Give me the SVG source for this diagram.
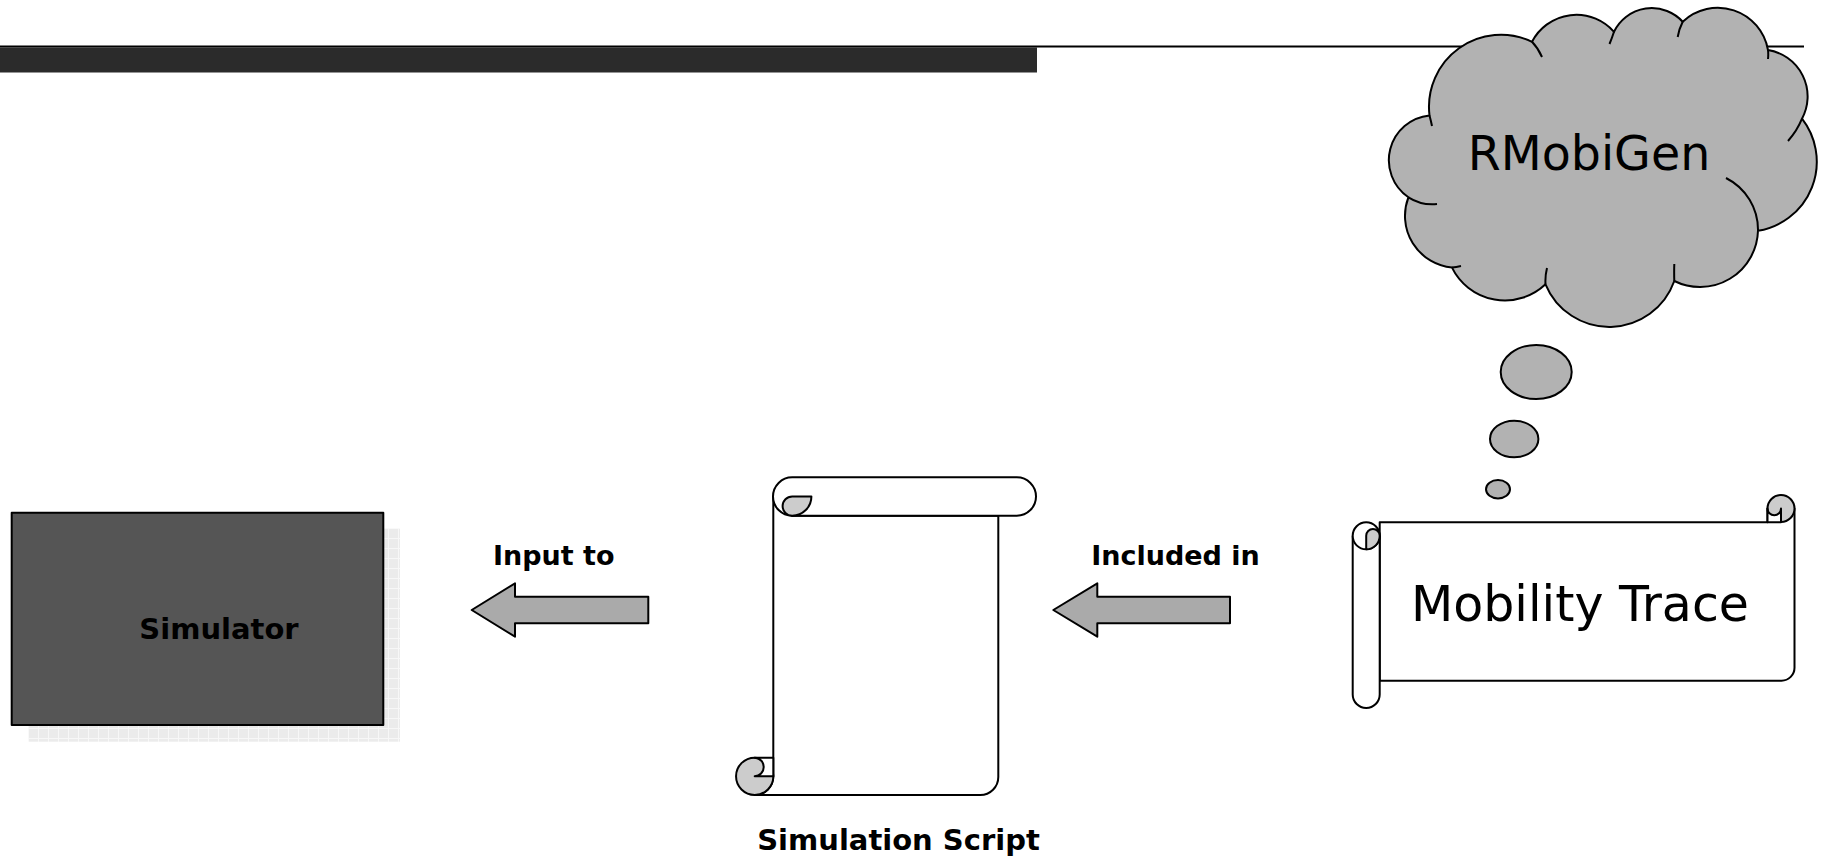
<svg xmlns="http://www.w3.org/2000/svg" width="1825" height="858" viewBox="0 0 1825 858">
<style>
.o{stroke:#000;stroke-width:2;stroke-linejoin:round}
.w{fill:#fff}
.c{fill:#cccccc}
.g{fill:#b2b2b2}
.n{fill:none}
.lb{font-family:"DejaVu Sans","Verdana",sans-serif;font-weight:bold;fill:#000;text-anchor:middle}
.lr{font-family:"DejaVu Sans","Verdana",sans-serif;fill:#000;text-anchor:middle}
</style>
<defs>
<pattern id="grid" x="28" y="528" width="10" height="10" patternUnits="userSpaceOnUse">
<rect width="10" height="10" fill="#ebebeb"/>
<path d="M0,0.5H10M0.5,0V10" stroke="#f7f7f7" stroke-width="1"/>
</pattern>
</defs>
<rect width="1825" height="858" fill="#fff"/>
<g id="header">
<rect x="0" y="47.5" width="1037" height="25" fill="#2b2b2b"/>
<line x1="0" y1="46.5" x2="1804" y2="46.5" stroke="#000" stroke-width="2"/>
</g>
<g id="simulator">
<rect x="28.3" y="528.3" width="371.7" height="213.4" fill="url(#grid)"/>
<rect x="11.7" y="512.7" width="371.6" height="212.3" fill="#555555" class="o"/>
<text x="219" y="638.5" class="lb" font-size="29" fill="#050505">Simulator</text>
</g>
<g id="simulation-script">
<path class="o w" d="M773.3,496.5V776.3A18.65,18.65 0 0 1 754.7,795H980.3A18,18 0 0 0 998.3,777V515.7H792.2Z"/>
<circle class="o c" cx="754.7" cy="776.3" r="18.65"/>
<path class="o w" d="M754.7,757.65H773.3V776.3H754.7A9.33,9.33 0 0 0 754.7,757.65Z"/>
<path class="o w" d="M792.2,477.3H1016.8A19.2,19.2 0 0 1 1016.8,515.7H792.2A19.2,19.2 0 0 1 792.2,477.3Z"/>
<path class="o c" d="M811.4,496.5A19.2,19.2 0 0 1 792.2,515.7A9.6,9.6 0 0 1 792.2,496.5Z"/>
<text x="898.5" y="850" class="lb" font-size="29">Simulation Script</text>
</g>
<g id="mobility-trace">
<path class="o w" d="M1379.7,522.3H1767.5V508.5H1794.5V667.7A13,13 0 0 1 1781.5,680.7H1379.7Z"/>
<circle class="o c" cx="1781" cy="508.5" r="13.5"/>
<path class="o w" d="M1767.5,508.5A6.75,6.75 0 0 0 1781,508.5V522.3H1767.5Z"/>
<path class="o w" d="M1352.7,535.8V694.5A13.5,13.5 0 0 0 1379.7,694.5V535.8"/>
<circle class="o w" cx="1366.2" cy="535.8" r="13.5"/>
<path class="o c" d="M1366.2,549.3A13.5,13.5 0 0 0 1379.7,535.8A6.75,6.75 0 0 0 1366.2,535.8Z"/>
<text x="1580" y="620.5" class="lr" font-size="49">Mobility Trace</text>
</g>
<g id="rmobigen">
<path class="o g" d="M1408.4,197.3A45,45 0 0 1 1429.5,115.4A72,72 0 0 1 1532,41.8A50,50 0 0 1 1614,31.8A42,42 0 0 1 1682.7,21.7A51,51 0 0 1 1768,50A47,47 0 0 1 1802,118.7A70,70 0 0 1 1758,230.8A58,58 0 0 1 1674.3,281A69,69 0 0 1 1545.5,284.3A59,59 0 0 1 1452,267.6A52,52 0 0 1 1408.4,197.3Z"/>
<path class="o n" d="M1408.4,197.3A45,45 0 0 0 1437,204M1429.5,115.4Q1431,121 1432,126M1532,41.8Q1538,48 1542,57M1614,31.8Q1612,38 1609.5,44M1682.7,21.7Q1679,29 1677.7,37M1768,50Q1768.5,54 1768,59M1802,118.7Q1797,131 1788,141M1758,230.8A58,58 0 0 0 1726,178M1674.3,281Q1674,272 1674.3,264M1545.5,284.3Q1545,276 1547,268M1452,267.6Q1456,267 1461,266"/>
<text x="1589" y="170" class="lr" font-size="47.5">RMobiGen</text>
<ellipse class="o g" cx="1536.2" cy="372" rx="35.5" ry="27"/>
<ellipse class="o g" cx="1514.2" cy="439" rx="24.2" ry="18.3"/>
<ellipse class="o g" cx="1498" cy="489.2" rx="12" ry="9.2"/>
</g>
<g id="connectors">
<path class="o" fill="#aaaaaa" d="M471.7,610L515,583.3V596.7H648.3V623.3H515V636.7Z"/>
<path class="o" fill="#aaaaaa" d="M1053.3,610L1097.3,583.3V596.7H1230V623.3H1097.3V636.7Z"/>
<text x="553.7" y="564.5" class="lb" font-size="27">Input to</text>
<text x="1175.5" y="565" class="lb" font-size="27">Included in</text>
</g>
</svg>
